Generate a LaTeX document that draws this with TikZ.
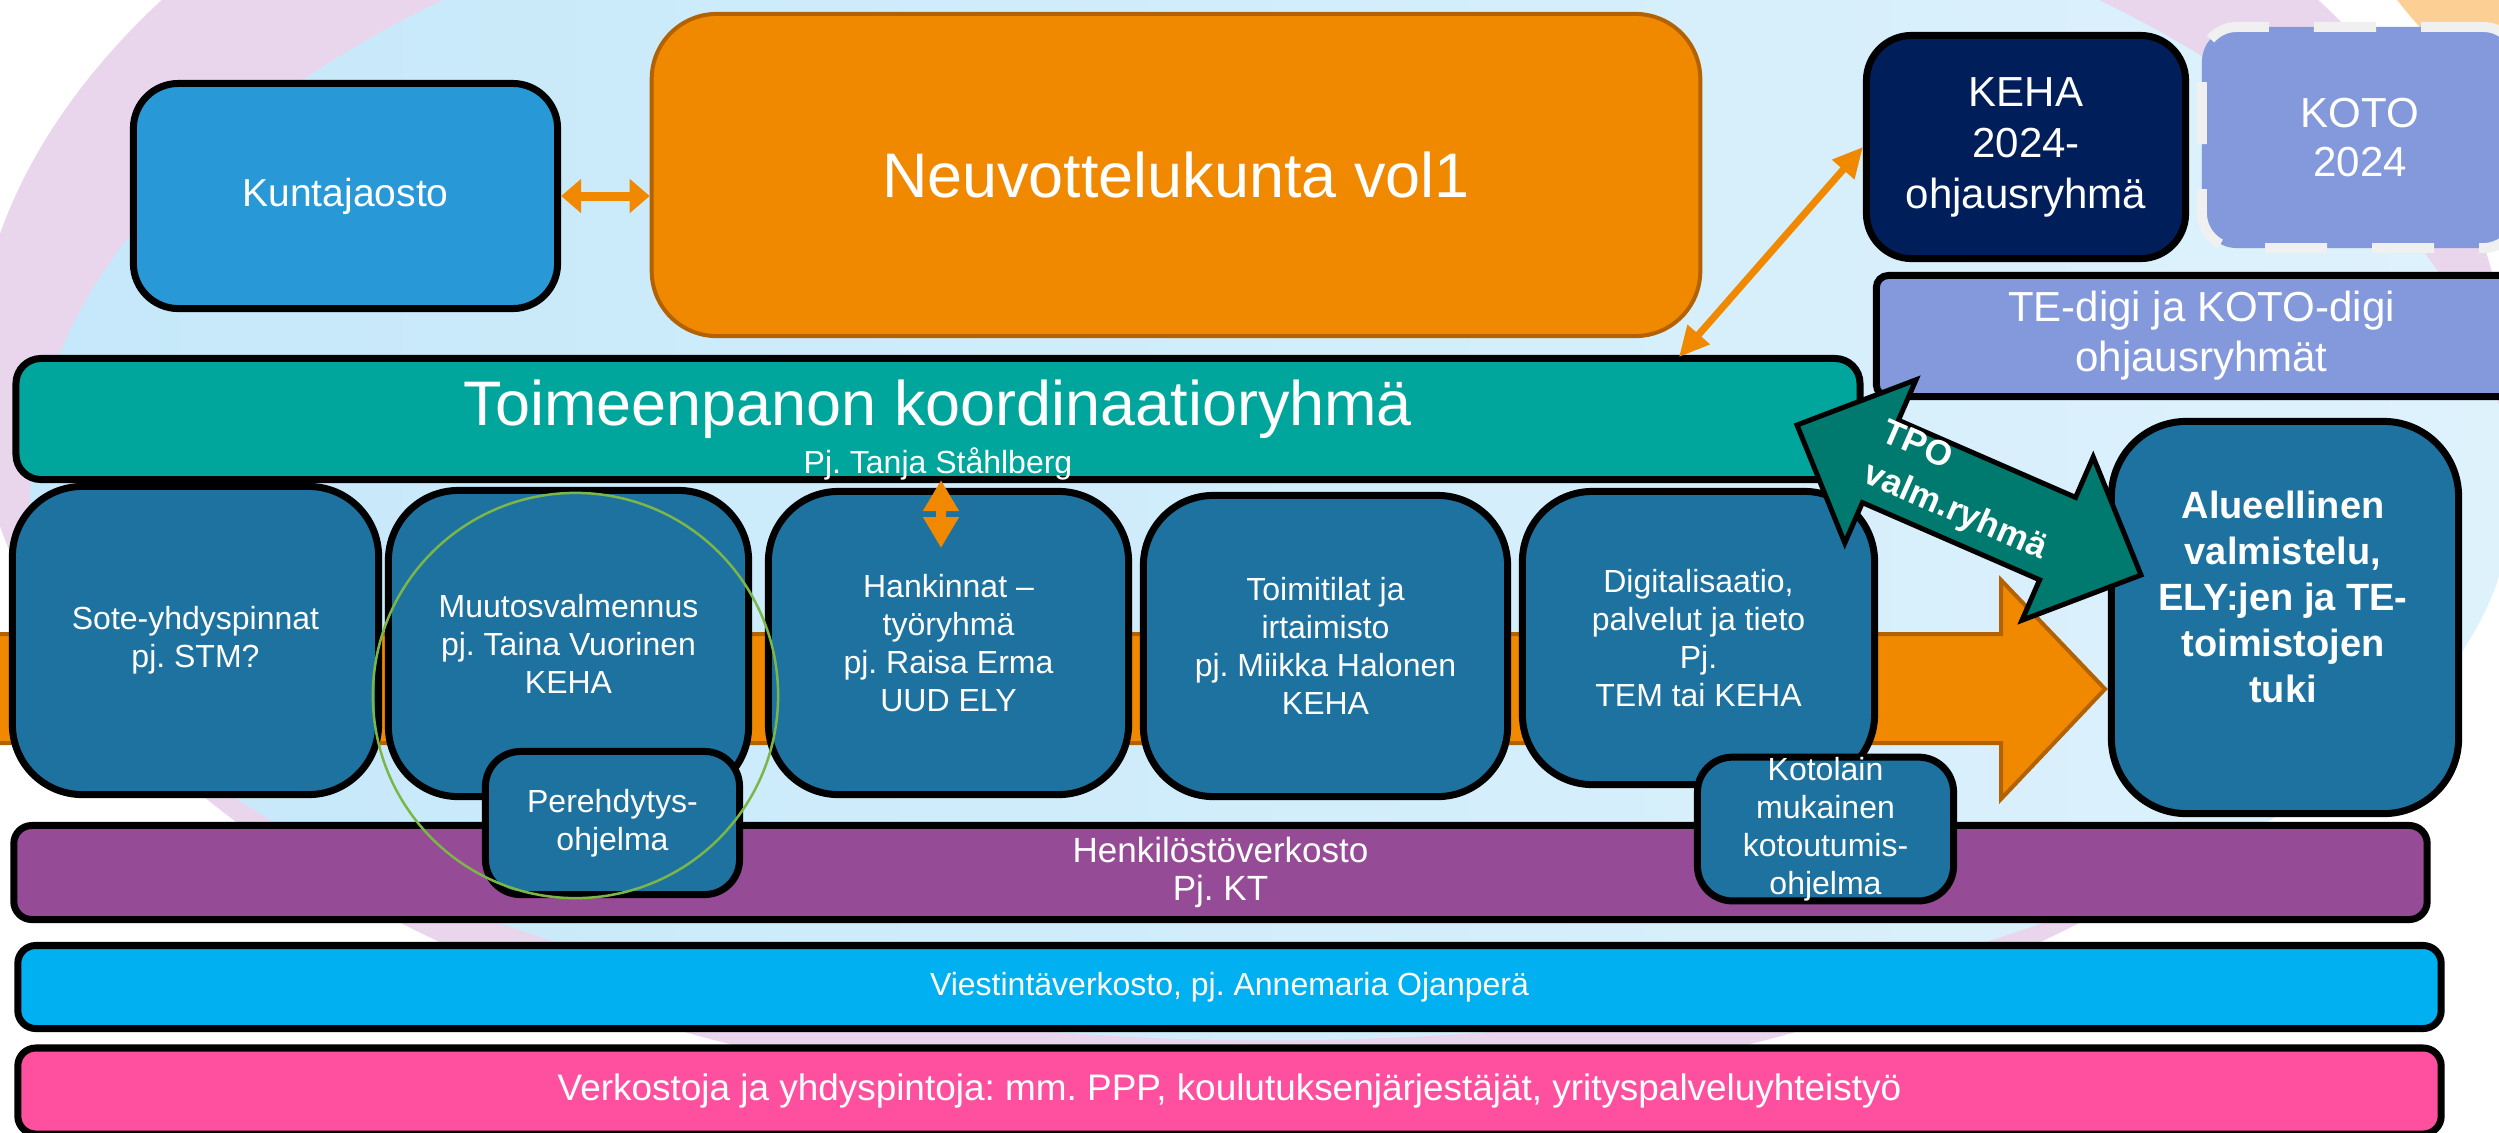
\documentclass[tikz,border=0pt]{standalone}
\usepackage{fontspec}
\setmainfont{Liberation Sans}
\usetikzlibrary{arrows.meta,calc}
\frenchspacing
\definecolor{bgblueL}{RGB}{197,232,250}
\definecolor{bgblueR}{RGB}{222,242,252}
\definecolor{bgpink}{RGB}{233,214,236}
\definecolor{bgpeach}{RGB}{252,208,148}
\definecolor{cKunta}{RGB}{41,152,214}
\definecolor{cOrange}{RGB}{240,136,0}
\definecolor{cOrangeD}{RGB}{178,98,0}
\definecolor{cTeal}{RGB}{0,166,156}
\definecolor{cMid}{RGB}{30,114,160}
\definecolor{cNavy}{RGB}{0,30,90}
\definecolor{cLav}{RGB}{131,153,219}
\definecolor{cTpo}{RGB}{0,122,110}
\definecolor{cHenk}{RGB}{150,75,150}
\definecolor{cVies}{RGB}{0,176,240}
\definecolor{cVerk}{RGB}{255,80,160}
\definecolor{cGreen}{RGB}{122,182,72}
\definecolor{cDash}{RGB}{240,240,240}
\tikzset{
  box/.style={draw=black, line width=0.07cm, text=white, align=center, inner sep=0pt},
  midbox/.style={box, fill=cMid, rounded corners=0.7cm, font=\fontsize{9.1}{10.8}\selectfont},
  smallbox/.style={box, fill=cMid, rounded corners=0.35cm, font=\fontsize{9.1}{10.8}\selectfont},
  barbox/.style={box, rounded corners=0.18cm},
  oarrow/.style={cOrange, {Triangle[length=0.2cm,width=0.33cm]}-{Triangle[length=0.2cm,width=0.33cm]}}
}
\begin{document}
\begin{tikzpicture}[x=0.01cm,y=-0.01cm]
\useasboundingbox (0,0) rectangle (2499,1132);
\begin{scope}
\clip (0,0) rectangle (2499,1132);
% background
\fill[white] (0,0) rectangle (2499,1132);
\fill[bgpeach] (2700,-230) circle[radius=3.8cm];
\fill[bgpink] (1240,380) ellipse[x radius=12.65cm, y radius=7.25cm];
\shade[left color=bgblueL, right color=bgblueR] (30,500)
  arc[start angle=180, end angle=0, x radius=12.4cm, y radius=6.71cm]
  arc[start angle=0, end angle=-180, x radius=12.4cm, y radius=5.4cm] -- cycle;
% big orange arrow behind the working groups
\draw[fill=cOrange, draw=cOrangeD, line width=0.04cm]
  (-20,634) -- (2001,634) -- (2001,580) -- (2105,689) -- (2001,799) -- (2001,743) -- (-20,743) -- cycle;
% top row
\node[box, fill=cKunta, rounded corners=0.45cm, minimum width=4.24cm, minimum height=2.25cm,
  font=\fontsize{11.1}{13}\selectfont] (kunta) at (345.5,196) {Kuntajaosto};
\node[box, draw=cOrangeD, line width=0.04cm, fill=cOrange, rounded corners=0.65cm,
  minimum width=10.48cm, minimum height=3.22cm, font=\fontsize{17.9}{21}\selectfont]
  (neuvo) at (1176,175) {Neuvottelukunta vol1};
\node[box, fill=cNavy, rounded corners=0.45cm, minimum width=3.19cm, minimum height=2.23cm,
  font=\fontsize{11.95}{14.5}\selectfont] (keha) at (2026,147) {KEHA\\2024-\\ohjausryhmä};
\node[box, draw=cDash, line width=0.1cm, dash pattern=on 0.62cm off 0.45cm, fill=cLav,
  rounded corners=0.35cm, minimum width=3.16cm, minimum height=2.21cm,
  font=\fontsize{11.95}{14.2}\selectfont] (koto) at (2360,137.5) {KOTO\\2024};
\node[box, fill=cLav, rounded corners=0.12cm, minimum width=6.5cm, minimum height=1.21cm,
  font=\fontsize{11.95}{14.2}\selectfont] (tedigi) at (2201.5,336) {TE-digi ja KOTO-digi\\ohjausryhmät};
% coordination group
\node[box, fill=cTeal, rounded corners=0.25cm, minimum width=18.43cm, minimum height=1.21cm]
  (toim) at (938,419) {};
\node[text=white, anchor=base, inner sep=0pt, font=\fontsize{17.9}{21}\selectfont]
  (toimT) at (938,425) {Toimeenpanon koordinaatioryhmä};
\node[text=white, anchor=base, inner sep=0pt, font=\fontsize{9.1}{10.8}\selectfont]
  (toimP) at (938,473) {Pj. Tanja Ståhlberg};
% working groups
\node[midbox, minimum width=3.66cm, minimum height=3.08cm] (sote) at (195.5,640.5) {Sote-yhdyspinnat\\pj. STM?};
\node[midbox, minimum width=3.6cm, minimum height=3.06cm] (muut) at (568.5,643.5) {Muutosvalmennus\\pj. Taina Vuorinen\\KEHA};
\node[midbox, minimum width=3.6cm, minimum height=3.03cm] (hank) at (948.5,643) {Hankinnat –\\työryhmä\\pj. Raisa Erma\\UUD ELY};
\node[midbox, minimum width=3.64cm, minimum height=3.01cm] (toimi) at (1325.5,646) {Toimitilat ja\\irtaimisto\\pj. Miikka Halonen\\KEHA};
\node[midbox, minimum width=3.52cm, minimum height=2.93cm] (digi) at (1698.5,638) {Digitalisaatio,\\palvelut ja tieto\\Pj.\\TEM tai KEHA};
% networks
\node[barbox, fill=cHenk, minimum width=24.12cm, minimum height=0.94cm,
  font=\fontsize{9.96}{10.8}\selectfont] (henk) at (1220.5,872.5) {Henkilöstöverkosto\\Pj. KT};
\node[barbox, fill=cVies, minimum width=24.22cm, minimum height=0.83cm,
  font=\fontsize{9.1}{10.8}\selectfont] (vies) at (1229.5,987) {Viestintäverkosto, pj. Annemaria Ojanperä};
\node[barbox, fill=cVerk, minimum width=24.22cm, minimum height=0.86cm,
  font=\fontsize{10.5}{12.5}\selectfont] (verk) at (1229.5,1091) {Verkostoja ja yhdyspintoja: mm. PPP, koulutuksenjärjestäjät, yrityspalveluyhteistyö};
% sub programmes
\node[smallbox, minimum width=2.54cm, minimum height=1.43cm] (pere) at (612.5,823) {Perehdytys-\\ohjelma};
\node[smallbox, minimum width=2.56cm, minimum height=1.41cm] (kotol) at (1825.5,829) {Kotolain\\mukainen\\kotoutumis-\\ohjelma};
% regional
\node[box, fill=cMid, rounded corners=0.75cm, minimum width=3.47cm, minimum height=3.92cm] (alue) at (2285,617.5) {};
\node[text=white, align=center, inner sep=0pt, font=\bfseries\fontsize{10.8}{13.1}\selectfont]
  (alueT) at (2283,597) {Alueellinen\\valmistelu,\\ELY:jen ja TE-\\toimistojen\\tuki};
% TPO double block arrow
\draw[fill=cTpo, draw=black, line width=0.05cm]
  (1797,425) -- (1916,379.8) -- (1898.4,420.2) -- (2075.6,497.4) -- (2093.2,457) -- (2141,575)
  -- (2022,620.2) -- (2039.6,579.8) -- (1862.4,502.6) -- (1844.8,543) -- cycle;
\node[text=white, align=left, inner sep=0pt, rotate=-23.5, font=\bfseries\fontsize{10}{12.8}\selectfont]
  (tpoT) at (1964,492) {TPO\\valm.ryhmä};
% connectors
\draw[oarrow, line width=0.09cm] (kunta.east) -- (kunta.east -| neuvo.west);
\coordinate (dlow) at (1679,357);
\draw[cOrange, line width=0.07cm, {Triangle[length=0.3cm,width=0.28cm]}-{Triangle[length=0.3cm,width=0.28cm]}]
  (dlow) -- (keha.west);
\coordinate (vbot) at (941,548);
\draw[cOrange, line width=0.1cm, {Triangle[length=0.31cm,width=0.34cm]}-{Triangle[length=0.31cm,width=0.34cm]}]
  ([xshift=0.03cm,yshift=0.03cm]toim.south) -- (vbot);
% highlight circle
\draw[cGreen, line width=0.025cm] (575.5,695.5) circle[radius=2.025cm];
\end{scope}
\end{tikzpicture}
\end{document}
